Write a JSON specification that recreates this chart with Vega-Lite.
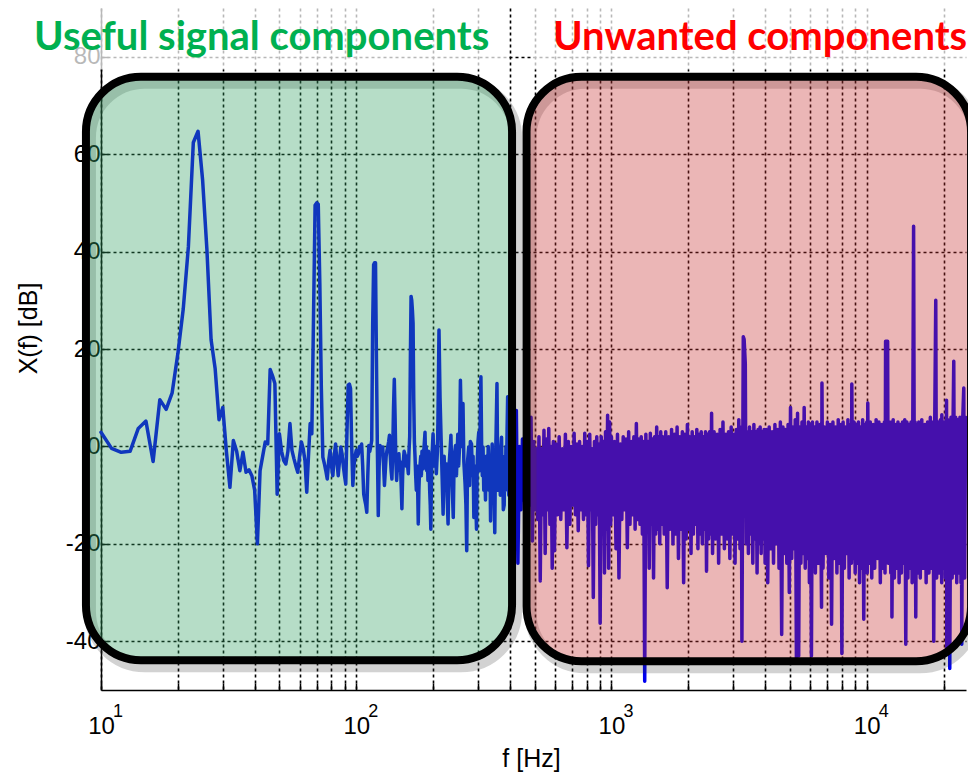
{
  "$schema": "https://vega.github.io/schema/vega-lite/v6.json",
  "width": 865,
  "height": 682,
  "autosize": "none",
  "padding": {"left": 101, "top": 8, "right": 2, "bottom": 82},
  "background": "white",
  "config": {"view": {"stroke": null}, "font": "Liberation Sans"},
  "resolve": {"scale": {"color": "independent"}},
  "datasets": {
    "spectrum": [
      {"f":10,"db":2.9},{"f":11,"db":-0.4},{"f":12,"db":-1.2},{"f":13,"db":-1.0},{"f":14,"db":3.7},{"f":15,"db":5.2},{"f":16,"db":-3.1},{"f":17,"db":9.6},{"f":18,"db":7.6},{"f":19,"db":11.0},
      {"f":20,"db":19.0},{"f":21,"db":28.2},{"f":22,"db":41.0},{"f":23,"db":62.4},{"f":24,"db":64.7},{"f":25,"db":54.8},{"f":26,"db":40.4},{"f":27,"db":21.9},{"f":28,"db":16.0},{"f":29,"db":5.5},
      {"f":30,"db":8.0},{"f":31,"db":-1.0},{"f":32,"db":-8.4},{"f":33,"db":1.2},{"f":34,"db":-1.0},{"f":35,"db":-5.0},{"f":36,"db":-1.2},{"f":37,"db":-5.3},{"f":38,"db":-4.8},{"f":39,"db":-6.0},
      {"f":40,"db":-9.0},{"f":41,"db":-20.0},{"f":42,"db":-5.0},{"f":43,"db":-2.0},{"f":44,"db":0.9},{"f":45,"db":0.5},{"f":46,"db":15.8},{"f":47,"db":14.5},{"f":48,"db":12.9},{"f":49,"db":-9.8},
      {"f":50,"db":2.6},{"f":51,"db":-1.0},{"f":52,"db":-2.9},{"f":53,"db":-3.6},{"f":54,"db":-1.0},{"f":55,"db":4.7},{"f":56,"db":-0.8},{"f":57,"db":-2.5},{"f":58,"db":-4.0},{"f":59,"db":-5.3},
      {"f":60,"db":-2.0},{"f":61,"db":0.9},{"f":62,"db":-0.5},{"f":63,"db":-3.0},{"f":64,"db":-9.4},{"f":65,"db":-2.0},{"f":66,"db":4.7},{"f":67,"db":2.6},{"f":68,"db":26.0},{"f":69,"db":49.5},
      {"f":70,"db":50.0},{"f":71,"db":49.7},{"f":72,"db":33.6},{"f":73,"db":12.0},{"f":74,"db":-2.2},{"f":75,"db":-3.5},{"f":76,"db":-5.0},{"f":77,"db":-6.7},{"f":78,"db":-3.0},{"f":79,"db":-0.8},
      {"f":80,"db":-4.0},{"f":81,"db":-6.0},{"f":82,"db":-2.0},{"f":83,"db":0.5},{"f":84,"db":-3.0},{"f":85,"db":-6.0},{"f":86,"db":-3.0},{"f":87,"db":-0.1},{"f":88,"db":-1.5},{"f":89,"db":-4.0},
      {"f":90,"db":-6.0},{"f":91,"db":-7.7},{"f":92,"db":3.0},{"f":93,"db":12.6},{"f":94,"db":12.8},{"f":95,"db":11.9},{"f":96,"db":0.0},{"f":97,"db":-8.0},{"f":98,"db":-4.0},{"f":99,"db":-2.0},
      {"f":100,"db":-0.8},{"f":101,"db":-2.0},{"f":102,"db":-1.5},{"f":103,"db":0.0},{"f":104,"db":-1.0},{"f":105,"db":0.5},{"f":106,"db":-4.0},{"f":107,"db":-9.8},{"f":108,"db":-11.0},{"f":109,"db":-12.0},
      {"f":110,"db":-13.5},{"f":111,"db":-6.0},{"f":112,"db":0.2},{"f":113,"db":-1.0},{"f":114,"db":0.0},{"f":115,"db":1.2},{"f":116,"db":25.0},{"f":117,"db":37.3},{"f":118,"db":37.7},{"f":119,"db":37.7},
      {"f":120,"db":18.0},{"f":121,"db":0.0},{"f":122,"db":-14.2},{"f":123,"db":-4.0},{"f":124,"db":0.2},{"f":125,"db":-1.5},{"f":126,"db":-1.0},{"f":127,"db":-0.1},{"f":128,"db":-4.0},{"f":129,"db":-8.0},
      {"f":130,"db":-5.0},{"f":131,"db":-2.0},{"f":132,"db":-0.8},{"f":133,"db":0.0},{"f":134,"db":1.0},{"f":135,"db":2.3},{"f":136,"db":-2.0},{"f":137,"db":-5.0},{"f":138,"db":-6.7},{"f":139,"db":-1.0},
      {"f":140,"db":8.0},{"f":141,"db":13.8},{"f":142,"db":6.0},{"f":143,"db":-3.0},{"f":144,"db":-7.0},{"f":145,"db":-4.0},{"f":146,"db":-2.0},{"f":147,"db":-1.5},{"f":148,"db":-5.0},{"f":149,"db":-3.2},
      {"f":150,"db":-8.0},{"f":151,"db":-12.8},{"f":152,"db":-6.0},{"f":153,"db":-3.0},{"f":154,"db":-1.0},{"f":155,"db":-1.5},{"f":156,"db":-3.0},{"f":157,"db":-4.0},{"f":158,"db":-2.0},{"f":159,"db":-4.0},
      {"f":160,"db":-5.6},{"f":161,"db":-1.0},{"f":162,"db":2.0},{"f":163,"db":18.0},{"f":164,"db":30.8},{"f":165,"db":30.0},{"f":166,"db":28.0},{"f":167,"db":25.3},{"f":168,"db":10.0},{"f":169,"db":1.0},
      {"f":170,"db":-2.2},{"f":171,"db":-6.0},{"f":172,"db":-9.0},{"f":173,"db":-4.0},{"f":174,"db":-8.0},{"f":175,"db":-15.9},{"f":176,"db":-9.0},{"f":177,"db":-5.0},{"f":178,"db":-3.6},{"f":179,"db":-2.0},
      {"f":180,"db":-6.0},{"f":181,"db":-1.0},{"f":182,"db":-3.0},{"f":183,"db":-4.6},{"f":184,"db":-1.0},{"f":185,"db":1.0},{"f":186,"db":2.9},{"f":187,"db":-3.0},{"f":188,"db":0.0},{"f":189,"db":-5.0},
      {"f":190,"db":-2.0},{"f":191,"db":-7.0},{"f":192,"db":-1.0},{"f":193,"db":-4.0},{"f":194,"db":-9.0},{"f":195,"db":-12.0},{"f":196,"db":-17.0},{"f":197,"db":-8.0},{"f":198,"db":-2.0},{"f":199,"db":0.0},
      {"f":200,"db":2.6},{"f":202,"db":-4.0},{"f":204,"db":0.0},{"f":206,"db":-5.6},{"f":208,"db":-1.0},{"f":209,"db":5.0},{"f":211,"db":23.9},{"f":213,"db":10.0},{"f":215,"db":1.9},{"f":217,"db":-6.0},
      {"f":219,"db":-13.9},{"f":221,"db":-2.0},{"f":223,"db":-7.0},{"f":226,"db":-3.6},{"f":227,"db":-10.0},{"f":229,"db":-15.9},{"f":231,"db":-4.0},{"f":233,"db":-1.0},{"f":235,"db":2.3},{"f":237,"db":-6.0},
      {"f":240,"db":-14.6},{"f":242,"db":-2.0},{"f":245,"db":0.2},{"f":247,"db":-6.0},{"f":250,"db":2.5},{"f":252,"db":-4.0},{"f":254,"db":0.0},{"f":256,"db":13.6},{"f":259,"db":0.0},{"f":262,"db":8.8},
      {"f":264,"db":-3.0},{"f":267,"db":-7.7},{"f":269,"db":-12.0},{"f":271,"db":-21.4},{"f":273,"db":-3.0},{"f":276,"db":-0.1},{"f":278,"db":-8.0},{"f":280,"db":1.0},{"f":283,"db":0.5},{"f":285,"db":-6.0},
      {"f":287,"db":-2.0},{"f":289,"db":-14.6},{"f":291,"db":-4.0},{"f":293,"db":-8.0},{"f":296,"db":-17.0},{"f":298,"db":-3.0},{"f":300,"db":1.0},{"f":302,"db":2.9},{"f":304,"db":-5.0},{"f":306,"db":5.0},
      {"f":308,"db":14.3},{"f":310,"db":0.0},{"f":312,"db":-6.0},{"f":314,"db":-0.1},{"f":316,"db":-9.0},{"f":318,"db":-3.0},{"f":321,"db":-11.0},{"f":323,"db":-2.0},{"f":325,"db":-6.0},{"f":327,"db":-7.7},
      {"f":329,"db":0.0},{"f":331,"db":-9.0},{"f":334,"db":-2.0},{"f":336,"db":-15.3},{"f":338,"db":-5.0},{"f":341,"db":0.5},{"f":343,"db":-8.0},{"f":345,"db":-3.0},{"f":347,"db":-10.0},{"f":349,"db":-17.7},
      {"f":351,"db":-4.0},{"f":353,"db":2.0},{"f":356,"db":12.9},{"f":358,"db":-3.0},{"f":360,"db":-9.0},{"f":363,"db":-7.7},{"f":365,"db":-1.0},{"f":367,"db":-10.0},{"f":369,"db":0.0},{"f":371,"db":1.9},
      {"f":373,"db":-8.0},{"f":375,"db":-4.0},{"f":377,"db":-13.0},{"f":380,"db":-12.0},{"f":382,"db":-2.0},{"f":384,"db":-9.0},{"f":386,"db":0.0},{"f":388,"db":-6.0},{"f":390,"db":3.0},{"f":392,"db":10.2},
      {"f":394,"db":-4.0},{"f":396,"db":-10.0},
      {"f":400,"db":2},{"f":406,"db":-12},{"f":412,"db":1},{"f":418,"db":-15},{"f":424,"db":7.4},{"f":430,"db":-24},{"f":436,"db":0},{"f":442,"db":-13},{"f":448,"db":1.5},{"f":454,"db":-11},
      {"f":460,"db":-1},{"f":466,"db":-14},{"f":472,"db":2},{"f":478,"db":-12},{"f":484,"db":6},{"f":490,"db":-19.4},{"f":496,"db":1},{"f":502,"db":-13},{"f":508,"db":-0.5},{"f":514,"db":-15},
      {"f":520,"db":2},{"f":526,"db":-27.6},{"f":532,"db":-0.5},{"f":538,"db":-14},{"f":544,"db":3.3},{"f":550,"db":-22},{"f":556,"db":1.5},{"f":562,"db":-13},{"f":568,"db":3.7},{"f":574,"db":-16},
      {"f":580,"db":0},{"f":586,"db":-25},{"f":592,"db":1},{"f":598,"db":-21.4},{"f":606,"db":0.5},{"f":615,"db":-14},{"f":624,"db":2},{"f":633,"db":-15},{"f":642,"db":-0.5},{"f":651,"db":-13},
      {"f":660,"db":2.5},{"f":669,"db":-20.8},{"f":678,"db":1},{"f":687,"db":-16},{"f":696,"db":0},{"f":705,"db":-12},{"f":714,"db":2.7},{"f":723,"db":-14},{"f":732,"db":0.5},{"f":741,"db":-17.3},
      {"f":750,"db":1},{"f":759,"db":-13},{"f":768,"db":0},{"f":777,"db":-15},{"f":786,"db":2.7},{"f":795,"db":-14},{"f":804,"db":1},{"f":813,"db":-24.5},{"f":822,"db":2.5},{"f":831,"db":-13},
      {"f":840,"db":-0.5},{"f":849,"db":-31},{"f":858,"db":1},{"f":867,"db":-16},{"f":876,"db":2},{"f":885,"db":-14},{"f":894,"db":0.5},{"f":903,"db":-36.3},{"f":912,"db":2},{"f":921,"db":-15},
      {"f":930,"db":1},{"f":939,"db":-26},{"f":948,"db":3},{"f":957,"db":-17},{"f":966,"db":6.4},{"f":975,"db":-25},{"f":984,"db":5},{"f":993,"db":-16},
      {"f":1000,"db":2},{"f":1014,"db":-14},{"f":1028,"db":1},{"f":1042,"db":-21},{"f":1056,"db":2.5},{"f":1070,"db":-27},{"f":1084,"db":0.5},{"f":1098,"db":-15},{"f":1112,"db":2},{"f":1126,"db":-13},
      {"f":1140,"db":1.5},{"f":1154,"db":-20.8},{"f":1168,"db":3},{"f":1182,"db":-16},{"f":1196,"db":1},{"f":1210,"db":-14},{"f":1224,"db":2},{"f":1238,"db":-17},{"f":1252,"db":4.7},{"f":1266,"db":-15},
      {"f":1280,"db":1.5},{"f":1294,"db":-16},{"f":1308,"db":2},{"f":1322,"db":-18},{"f":1336,"db":1},{"f":1350,"db":-48.2},{"f":1364,"db":2.5},{"f":1378,"db":-17},{"f":1392,"db":1},{"f":1406,"db":-25},
      {"f":1420,"db":2.7},{"f":1434,"db":-16},{"f":1448,"db":1.5},{"f":1462,"db":-27},{"f":1476,"db":2},{"f":1490,"db":-18},{"f":1504,"db":4},{"f":1518,"db":-17},{"f":1532,"db":2},{"f":1546,"db":-20},
      {"f":1560,"db":3},{"f":1574,"db":-16},{"f":1588,"db":2},
      {"f":1610,"db":-18},{"f":1632,"db":3},{"f":1654,"db":-29},{"f":1676,"db":2},{"f":1698,"db":-17},{"f":1720,"db":3.5},{"f":1742,"db":-20},{"f":1764,"db":2.5},{"f":1786,"db":-18},{"f":1808,"db":4},
      {"f":1830,"db":-23},{"f":1852,"db":2},{"f":1874,"db":-17},{"f":1896,"db":3},{"f":1918,"db":-28},{"f":1940,"db":2.5},{"f":1962,"db":-19},{"f":1984,"db":4.5},{"f":2006,"db":-17},{"f":2028,"db":2},
      {"f":2050,"db":-22},{"f":2072,"db":3},{"f":2094,"db":-18},{"f":2116,"db":2},{"f":2138,"db":-16},{"f":2160,"db":3.5},{"f":2182,"db":-21},{"f":2204,"db":2.5},{"f":2226,"db":-18},{"f":2248,"db":3},
      {"f":2270,"db":-20},{"f":2292,"db":2},{"f":2314,"db":-17},{"f":2336,"db":3},{"f":2358,"db":-25.6},{"f":2380,"db":2.5},{"f":2402,"db":-19},{"f":2424,"db":3},{"f":2446,"db":-18},{"f":2468,"db":6.8},
      {"f":2490,"db":-22},
      {"f":2525,"db":3},{"f":2560,"db":-19},{"f":2595,"db":2.5},{"f":2630,"db":-24},{"f":2665,"db":3.5},{"f":2700,"db":-18},{"f":2735,"db":5},{"f":2770,"db":-21},{"f":2805,"db":2.5},{"f":2840,"db":-19},
      {"f":2875,"db":3},{"f":2910,"db":-23},{"f":2945,"db":4},{"f":2980,"db":-18},{"f":3015,"db":2.5},{"f":3050,"db":-24},{"f":3085,"db":3.5},{"f":3120,"db":-19},{"f":3155,"db":5.5},{"f":3190,"db":-21},
      {"f":3225,"db":4},{"f":3245,"db":-40},{"f":3285,"db":22.5},{"f":3310,"db":22.0},{"f":3345,"db":17},{"f":3370,"db":-20},{"f":3405,"db":3},{"f":3440,"db":-22},{"f":3475,"db":4},{"f":3510,"db":-18},
      {"f":3545,"db":3},{"f":3580,"db":-24},{"f":3615,"db":4.5},{"f":3650,"db":-19},{"f":3685,"db":3},{"f":3720,"db":-26},{"f":3755,"db":3.5},{"f":3790,"db":-20},{"f":3825,"db":4},{"f":3860,"db":-22},
      {"f":3895,"db":3},{"f":3930,"db":-19},{"f":3965,"db":3.5},{"f":4000,"db":-24},
      {"f":4040,"db":3.5},{"f":4095,"db":-28},{"f":4150,"db":4},{"f":4205,"db":-21},{"f":4260,"db":3},{"f":4315,"db":-24},{"f":4370,"db":4.5},{"f":4425,"db":-20},{"f":4480,"db":3.5},{"f":4535,"db":-25},
      {"f":4590,"db":5},{"f":4645,"db":-38.6},{"f":4700,"db":4},{"f":4755,"db":-22},{"f":4810,"db":3.5},{"f":4865,"db":-24},{"f":4920,"db":4.5},{"f":4975,"db":-30},{"f":5030,"db":8},{"f":5085,"db":-23},
      {"f":5140,"db":4},{"f":5195,"db":-21},{"f":5250,"db":5.5},{"f":5305,"db":-43.5},{"f":5360,"db":6.8},{"f":5415,"db":-43},{"f":5470,"db":4},{"f":5525,"db":-24},{"f":5580,"db":5},{"f":5635,"db":-22},
      {"f":5690,"db":8},{"f":5745,"db":-25},{"f":5800,"db":4},{"f":5855,"db":-23},{"f":5910,"db":5},{"f":5965,"db":-28},{"f":6020,"db":4.5},{"f":6075,"db":-43},{"f":6130,"db":5},{"f":6185,"db":-24},
      {"f":6240,"db":4},{"f":6295,"db":-26},
      {"f":6385,"db":5},{"f":6475,"db":-24},{"f":6565,"db":4.5},{"f":6655,"db":-33},{"f":6680,"db":13},{"f":6745,"db":-25},{"f":6835,"db":4},{"f":6925,"db":-22},{"f":7015,"db":5},{"f":7105,"db":-27},
      {"f":7195,"db":4.5},{"f":7285,"db":-36.5},{"f":7375,"db":5},{"f":7465,"db":-23},{"f":7555,"db":4},{"f":7645,"db":-26},{"f":7735,"db":5.5},{"f":7825,"db":-24},{"f":7915,"db":4.5},{"f":7995,"db":-42.5},
      {"f":8085,"db":5},{"f":8175,"db":-25},{"f":8265,"db":4},{"f":8355,"db":-22},{"f":8445,"db":5.5},{"f":8535,"db":-27},{"f":8625,"db":4.5},{"f":8715,"db":-24},{"f":8745,"db":12.8},{"f":8835,"db":-23},
      {"f":8925,"db":5},{"f":9015,"db":-26},{"f":9105,"db":4.5},{"f":9195,"db":-24},{"f":9285,"db":5},{"f":9375,"db":-28},{"f":9465,"db":4},{"f":9555,"db":-25},{"f":9645,"db":5.5},{"f":9740,"db":-35.5},
      {"f":9830,"db":4.5},{"f":9920,"db":-24},
      {"f":10010,"db":5},{"f":10050,"db":-26},{"f":10100,"db":8.9},{"f":10190,"db":-24},{"f":10330,"db":5},{"f":10470,"db":-27},{"f":10610,"db":4.5},{"f":10750,"db":-25},{"f":10890,"db":5.5},{"f":11030,"db":-23},
      {"f":11170,"db":5},{"f":11310,"db":-28},{"f":11450,"db":4.5},{"f":11590,"db":-25},{"f":11730,"db":5},{"f":11800,"db":-26},{"f":11860,"db":21.6},{"f":12080,"db":21.6},{"f":12150,"db":-24},{"f":12290,"db":5},
      {"f":12430,"db":-26},{"f":12520,"db":5},{"f":12560,"db":-35},{"f":12700,"db":5.5},{"f":12840,"db":-27},{"f":12980,"db":4.5},{"f":13120,"db":-25},{"f":13260,"db":5},{"f":13400,"db":-28},{"f":13540,"db":4.5},
      {"f":13680,"db":-26},{"f":13820,"db":5},{"f":13960,"db":-24},{"f":14100,"db":5.5},{"f":14230,"db":-40.6},{"f":14370,"db":5},{"f":14510,"db":-27},{"f":14650,"db":4.5},{"f":14790,"db":-25},{"f":14930,"db":5},
      {"f":15070,"db":-28},{"f":15270,"db":45.2},{"f":15400,"db":-26},{"f":15480,"db":5},{"f":15570,"db":-35},{"f":15710,"db":4.5},{"f":15850,"db":-26},
      {"f":16000,"db":5},{"f":16220,"db":-27},{"f":16440,"db":5.5},{"f":16660,"db":-25},{"f":16880,"db":4.5},{"f":17100,"db":-28},{"f":17320,"db":5},{"f":17540,"db":-26},{"f":17760,"db":6},{"f":17980,"db":-25},
      {"f":18200,"db":5},{"f":18310,"db":-40},{"f":18480,"db":5.5},{"f":18650,"db":30},{"f":18800,"db":-27},{"f":19020,"db":5},{"f":19240,"db":-26},{"f":19460,"db":5.5},{"f":19680,"db":-28},{"f":19700,"db":6.5},
      {"f":19900,"db":-25},{"f":20120,"db":5},{"f":20340,"db":-27},{"f":20550,"db":9.5},{"f":20600,"db":-42},{"f":20800,"db":5.5},{"f":21000,"db":-28},{"f":21080,"db":5},{"f":21160,"db":-45.6},{"f":21400,"db":6},
      {"f":21620,"db":-27},{"f":21800,"db":5},{"f":21940,"db":17.5},{"f":22100,"db":-26},{"f":22320,"db":6},{"f":22540,"db":-28},{"f":22760,"db":5.5},{"f":22980,"db":-26},{"f":23200,"db":6},{"f":23420,"db":-28},
      {"f":23500,"db":5.5},{"f":23580,"db":-40.6},{"f":23800,"db":6},{"f":24010,"db":12},{"f":24200,"db":-27},{"f":24400,"db":6}
    ],
    "zones": [
      {"zone":"useful","f1":8.73,"f2":407.9,"top":75.9,"bottom":-43.9},
      {"zone":"unwanted","f1":464.8,"f2":25640,"top":75.9,"bottom":-44.1}
    ],
    "veils": [
      {"f1":5.27,"f2":389.8,"top":93,"bottom":77.4},
      {"f1":494.3,"f2":26000,"top":93,"bottom":77.4}
    ],
    "headings": [
      {"zone":"useful","label":"Useful signal components","f":42.6,"db":81.3},
      {"zone":"unwanted","label":"Unwanted components","f":3822,"db":81.3}
    ],
    "decades": [
      {"f":10,"exp":"1"},{"f":100,"exp":"2"},{"f":1000,"exp":"3"},{"f":10000,"exp":"4"}
    ]
  },
  "layer": [
    {
      "data": {"name": "spectrum"},
      "mark": {"type": "line", "color": "#0000f0", "strokeWidth": 3.5, "strokeJoin": "round", "strokeCap": "round"},
      "encoding": {
        "x": {
          "field": "f", "type": "quantitative",
          "scale": {"type": "log", "domain": [10, 24500]},
          "axis": {
            "values": [10,20,30,40,50,60,70,80,90,100,200,300,400,500,600,700,800,900,1000,2000,3000,4000,5000,6000,7000,8000,9000,10000,20000],
            "labelExpr": "indexof([10,100,1000,10000], datum.value) >= 0 ? '10' : ''",
            "labelOverlap": false, "labelFlush": false, "labelBound": false,
            "labelFontSize": 24, "labelColor": "#000", "labelBaseline": "alphabetic", "labelPadding": 50, "labelDx": -3.5,
            "grid": true, "gridColor": "#000", "gridDash": [3, 3], "gridWidth": 1.6, "gridOpacity": 1,
            "domainColor": "#000", "domainWidth": 1.5,
            "tickColor": "#000", "tickWidth": 1.5, "tickSize": -7,
            "title": "f [Hz]", "titleFontSize": 25, "titleFontWeight": "normal", "titleColor": "#000",
            "titleX": 430, "titleY": 68, "titleAlign": "center", "titleBaseline": "middle"
          }
        },
        "y": {
          "field": "db", "type": "quantitative",
          "scale": {"domain": [-50, 90]},
          "axis": {
            "values": [-40, -20, 0, 20, 40, 60, 80],
            "labelExpr": "'' + datum.value",
            "labelFontSize": 24, "labelColor": "#000", "labelPadding": 8,
            "grid": true, "gridColor": "#000", "gridDash": [3, 3], "gridWidth": 1.6, "gridOpacity": 1,
            "domainColor": "#000", "domainWidth": 1.5,
            "tickColor": "#000", "tickWidth": 1.5, "tickSize": -7,
            "title": "X(f) [dB]", "titleFontSize": 25, "titleFontWeight": "normal", "titleColor": "#000",
            "titleAngle": -90, "titleX": -73, "titleY": 320, "titleAlign": "center", "titleBaseline": "middle"
          }
        }
      }
    },
    {
      "mark": {"type": "rule", "color": "#000", "strokeWidth": 1.5},
      "encoding": {"y": {"datum": 90, "type": "quantitative", "scale": {"domain": [-50, 90]}}}
    },
    {
      "data": {"name": "zones"},
      "mark": {"type": "rect", "cornerRadius": 55, "fillOpacity": 0, "stroke": "#333", "strokeOpacity": 0.22, "strokeWidth": 12, "xOffset": 4, "x2Offset": 4, "yOffset": 6, "y2Offset": 6},
      "encoding": {
        "x": {"field": "f1", "type": "quantitative", "scale": {"type": "log", "domain": [10, 24500]}},
        "x2": {"field": "f2"},
        "y": {"field": "top", "type": "quantitative", "scale": {"domain": [-50, 90]}},
        "y2": {"field": "bottom"}
      }
    },
    {
      "data": {"name": "zones"},
      "mark": {"type": "rect", "cornerRadius": 55, "fillOpacity": 0.35, "stroke": "#000", "strokeWidth": 8},
      "encoding": {
        "x": {"field": "f1", "type": "quantitative", "scale": {"type": "log", "domain": [10, 24500]}},
        "x2": {"field": "f2"},
        "y": {"field": "top", "type": "quantitative", "scale": {"domain": [-50, 90]}},
        "y2": {"field": "bottom"},
        "color": {"field": "zone", "type": "nominal", "scale": {"domain": ["useful", "unwanted"], "range": ["#2e9e5f", "#c62e2e"]}, "legend": null}
      }
    },
    {
      "data": {"name": "veils"},
      "mark": {"type": "rect", "color": "#fff", "opacity": 0.72},
      "encoding": {
        "x": {"field": "f1", "type": "quantitative", "scale": {"type": "log", "domain": [10, 24500]}},
        "x2": {"field": "f2"},
        "y": {"field": "top", "type": "quantitative", "scale": {"domain": [-50, 90]}},
        "y2": {"field": "bottom"}
      }
    },
    {
      "data": {"name": "headings"},
      "mark": {"type": "text", "font": "Lato", "fontWeight": "bold", "fontSize": 40, "align": "center", "baseline": "alphabetic"},
      "encoding": {
        "x": {"field": "f", "type": "quantitative", "scale": {"type": "log", "domain": [10, 24500]}},
        "y": {"field": "db", "type": "quantitative", "scale": {"domain": [-50, 90]}},
        "text": {"field": "label"},
        "color": {"field": "zone", "type": "nominal", "scale": {"domain": ["useful", "unwanted"], "range": ["#00b050", "#ff0000"]}, "legend": null}
      }
    },
    {
      "data": {"name": "decades"},
      "mark": {"type": "text", "fontSize": 18, "align": "left", "baseline": "middle", "dx": 12, "color": "#000"},
      "encoding": {
        "x": {"field": "f", "type": "quantitative", "scale": {"type": "log", "domain": [10, 24500]}},
        "y": {"datum": -54.6, "type": "quantitative", "scale": {"domain": [-50, 90]}},
        "text": {"field": "exp"}
      }
    }
  ]
}
